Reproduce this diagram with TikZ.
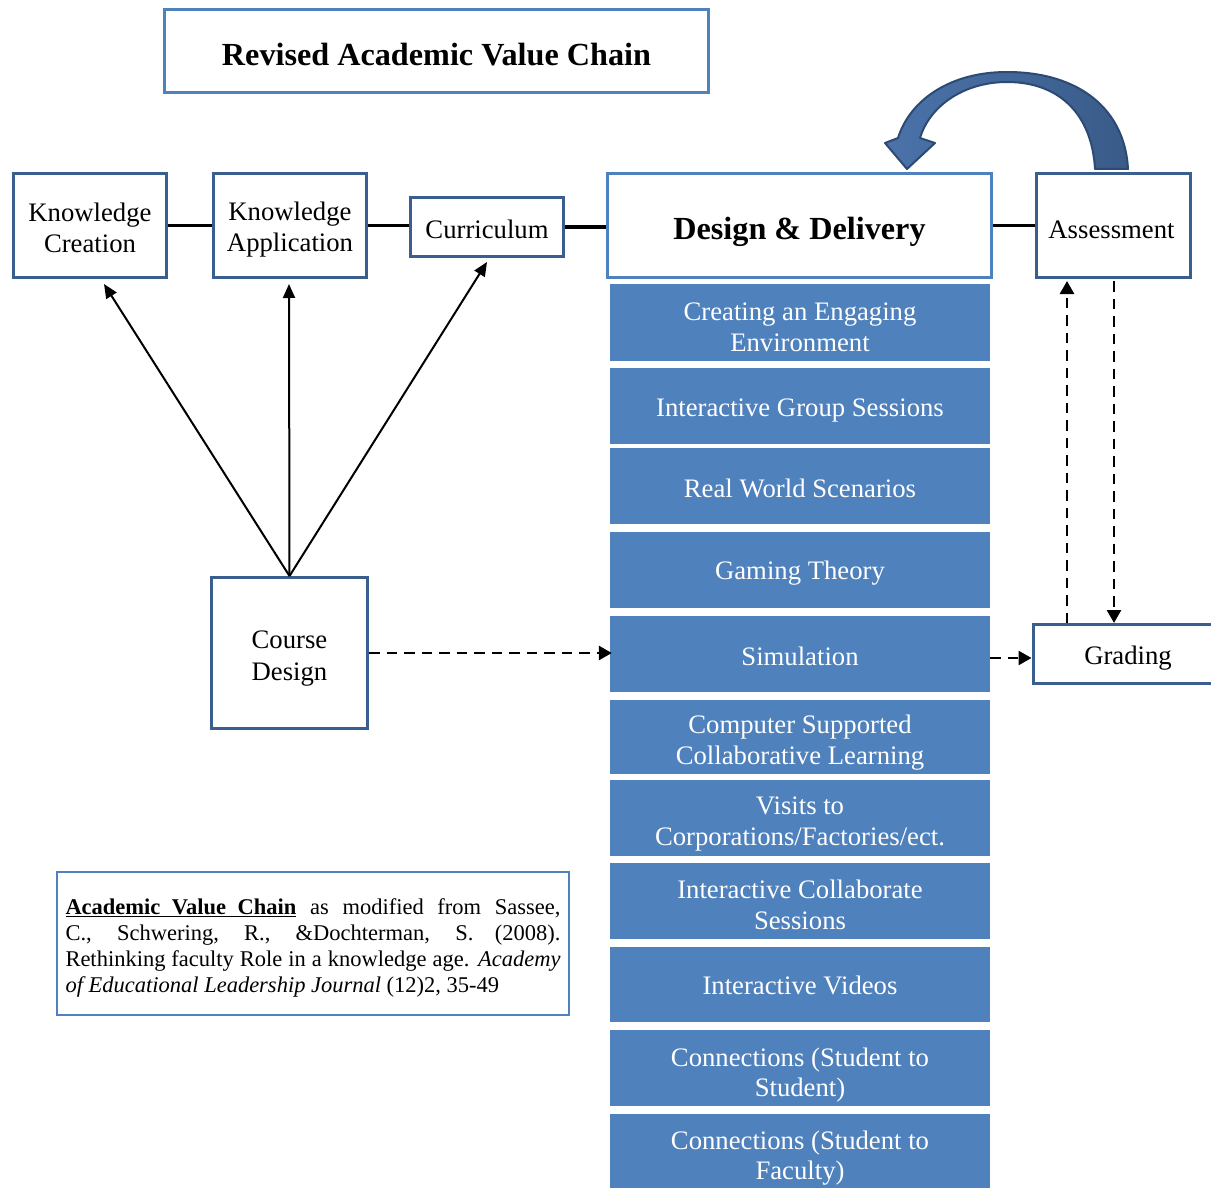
\documentclass[tikz,border=0pt]{standalone}
\usepackage{fontspec}
\setmainfont{Liberation Serif}
\usetikzlibrary{arrows.meta}
\definecolor{boxblue}{HTML}{4F81BD}
\definecolor{darkblue}{HTML}{3A5F8F}
\definecolor{arcleft}{HTML}{4B73AA}
\definecolor{arcright}{HTML}{395B88}
\definecolor{arcline}{HTML}{2C4A72}
\begin{document}
\begin{tikzpicture}[x=1pt,y=-1pt,
  wbox/.style={draw=darkblue, line width=3pt, fill=white, inner sep=0pt},
  wtxt/.style={align=center, inner sep=0pt, text=black, font=\fontsize{26.7}{31}\selectfont},
  btxt/.style={align=center, inner sep=0pt, text=white, font=\fontsize{26.7}{30.5}\selectfont},
  bigtxt/.style={align=center, inner sep=0pt, text=black, font=\fontsize{32.2}{38}\selectfont\bfseries},
  bluebox/.style={fill=boxblue, minimum width=380pt, minimum height=76pt, inner sep=0pt},
  link/.style={line width=3.5pt},
  arr/.style={line width=2pt, -{Triangle[length=14pt,width=12pt]}},
  dasharr/.style={line width=2.6pt, dash pattern=on 10.5pt off 7pt, -{Triangle[length=13pt,width=14pt]}}
]
\useasboundingbox (0,0) rectangle (1211,1188);
\fill[white] (0,0) rectangle (1211,1188);

% title
\node[draw=boxblue, line width=3pt, minimum width=544pt, minimum height=83pt, inner sep=0pt,
  label={[bigtxt, yshift=-4pt]center:Revised Academic Value Chain}] (title) at (436.5,51) {};

% top row
\node[wbox, minimum width=153pt, minimum height=104pt, label={[wtxt, yshift=-2.5pt]center:{Knowledge\\Creation}}] (kc) at (90,225.5) {};
\node[wbox, minimum width=153pt, minimum height=104pt, label={[wtxt, yshift=-4pt]center:{Knowledge\\Application}}] (ka) at (290,225.5) {};
\node[wbox, minimum width=153pt, minimum height=59pt, label={[wtxt, yshift=-2pt]center:Curriculum}] (cur) at (487,227) {};
\node[wbox, draw=boxblue, minimum width=384pt, minimum height=104pt, label={[bigtxt, yshift=-6pt]center:{Design \& Delivery}}] (dd) at (799.5,225.5) {};
\node[wbox, minimum width=154pt, minimum height=104pt, label={[wtxt, yshift=-4pt, xshift=-2pt]center:Assessment}] (as) at (1113.5,225.5) {};

\draw[link] (kc.east) -- (ka.west);
\draw[link] (ka.east) -- (ka.east -| cur.west);
\draw[link] (cur.east) -- (cur.east -| dd.west);
\draw[link] (dd.east) -- (as.west);

% blue boxes
\node[bluebox, minimum height=77pt, label={[btxt, yshift=-5pt]center:{Creating an Engaging\\Environment}}] (b1) at (800,322.5) {};
\node[bluebox, label={[btxt, yshift=-5pt]center:{Interactive Group Sessions}}] (b2) at (800,406) {};
\node[bluebox, label={[btxt, yshift=-2pt]center:{Real World Scenarios}}] (b3) at (800,486) {};
\node[bluebox, label={[btxt, yshift=-3pt]center:{Gaming Theory}}] (b4) at (800,570) {};
\node[bluebox, label={[btxt, yshift=-2pt]center:{Simulation}}] (sim) at (800,654) {};
\node[bluebox, minimum height=74pt, label={[btxt, yshift=-5.5pt]center:{Computer Supported\\Collaborative Learning}}] (b6) at (800,737) {};
\node[bluebox, label={[btxt, yshift=-6pt]center:{Visits to\\Corporations/Factories/ect.}}] (b7) at (800,818) {};
\node[bluebox, label={[btxt, yshift=-4pt]center:{Interactive Collaborate\\Sessions}}] (b8) at (800,901) {};
\node[bluebox, minimum height=75pt, label={[btxt, yshift=-1pt]center:{Interactive Videos}}] (b9) at (800,984.5) {};
\node[bluebox, label={[btxt, yshift=-7pt]center:{Connections (Student to\\Student)}}] (b10) at (800,1068) {};
\node[bluebox, label={[btxt, yshift=-6pt]center:{Connections (Student to\\Faculty)}}] (b11) at (800,1152) {};

% course design
\node[wbox, minimum width=156pt, minimum height=151pt, label={[wtxt, yshift=-5.5pt, font=\fontsize{26.7}{32}\selectfont]center:{Course\\Design}}] (cd) at (289.5,653) {};
\draw[arr] (cd.north) -- ([xshift=14pt,yshift=-5pt]kc.south);
\draw[arr] (cd.north) -- ([xshift=-1pt,yshift=-5pt]ka.south);
\draw[arr] (cd.north) -- ([yshift=-4pt]cur.south);
\draw[dasharr] (cd.east) -- ([xshift=2pt]cd.east -| sim.west);

% grading
\node[wbox, minimum width=190pt, minimum height=59pt, label={[wtxt, yshift=-4pt]center:Grading}] (gr) at (1128,654) {};
\draw[dasharr] ([yshift=-4pt]sim.east) -- ([yshift=-4pt]gr.west);
\draw[dasharr] (gr.north -| 1067,0) -- ([yshift=-2pt]as.south -| 1067,0);
\draw[dasharr] ([yshift=-2pt]as.south -| 1114,0) -- (gr.north -| 1114,0);

% curved arrow
\filldraw[left color=arcleft, right color=arcright, draw=arcline, line width=2pt, line join=round]
  (1128,169) .. controls (1125,110) and (1080,72) .. (1007,72)
  .. controls (950,72) and (910,100) .. (898,138)
  -- (885,143) -- (907,169) -- (935,143) -- (920,138)
  .. controls (930,105) and (965,82) .. (1007,82)
  .. controls (1060,82) and (1092,115) .. (1095,169) -- cycle;

% citation
\node[draw=boxblue, line width=2pt, minimum width=512pt, minimum height=143pt, inner sep=0pt,
 label={[yshift=-4pt, inner sep=0pt]center:{\parbox{495pt}{\fontsize{22.5}{26}\selectfont
 \makebox[495pt][s]{\underline{\makebox[231pt][s]{\textbf{Academic Value Chain}}} as modified from Sassee,}\\
 \makebox[495pt][s]{C., Schwering, R., \&Dochterman, S. (2008).}\\
 \makebox[495pt][s]{Rethinking faculty Role in a knowledge age. \textit{Academy}}\\
 \textit{of Educational Leadership Journal} (12)2, 35-49}}}] (cite) at (313,943.5) {};
\end{tikzpicture}
\end{document}
